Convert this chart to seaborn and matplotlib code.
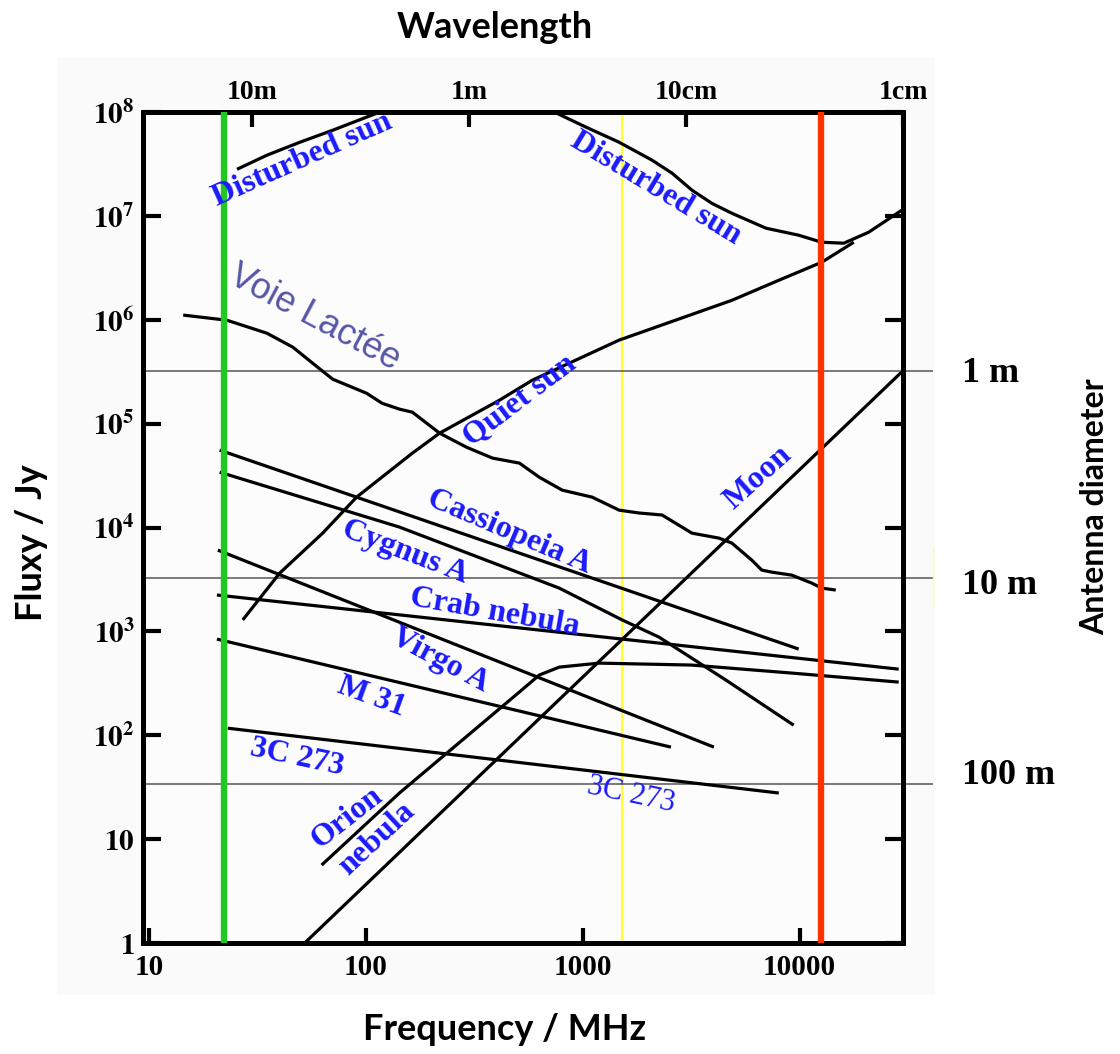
import matplotlib
matplotlib.use('Agg')
import matplotlib.pyplot as plt
import seaborn as sns
import pandas as pd
from matplotlib.patches import Rectangle

# Spectra: frequency in MHz, flux density in Jy
disturbed_sun_lo_mhz = [25.5, 35.0, 49.7, 70.4, 116]
disturbed_sun_lo_jy = [2.81e7, 3.84e7, 5.12e7, 6.68e7, 1.0e8]
disturbed_sun_hi_mhz = [740, 1038, 1472, 2089, 2582, 3190, 3945, 4875, 6998, 9908, 12650, 15990, 20840, 29510]
disturbed_sun_hi_jy = [1.0e8, 7.14e7, 5.12e7, 3.44e7, 2.58e7, 1.77e7, 1.32e7, 1.06e7, 7.62e6, 6.52e6,
                       5.58e6, 5.46e6, 6.97e6, 1.13e7]
quiet_sun_mhz = [27.1, 40.1, 63.3, 90.7, 164, 219, 413, 586, 1472, 4875, 8017, 12650, 17780]
quiet_sun_jy = [1290, 3640, 8830, 1.96e4, 5.2e4, 8.1e4, 1.68e5, 2.62e5, 6.37e5, 1.54e6, 2.4e6, 3.58e6, 5.58e6]
milky_way_mhz = [14.4, 22.9, 35.0, 46.1, 56.9, 70.4, 101, 119, 143, 164, 219, 291, 384, 511, 631,
                 805, 1107, 1472, 1820, 2323, 3190, 4246, 4875, 6026, 6699, 7447, 9204, 11370, 12650, 14690]
milky_way_jy = [1.11e6, 9.9e5, 7.43e5, 5.45e5, 3.82e5, 2.68e5, 1.96e5, 1.57e5, 1.38e5, 1.29e5, 8.1e4,
                5.94e4, 4.66e4, 4.17e4, 3.05e4, 2.29e4, 1.96e4, 1.47e4, 1.38e4, 1.32e4, 8830, 7910, 7080,
                4850, 3890, 3720, 3480, 2920, 2610, 2500]
cas_a_mhz = [21.2, 9908]
cas_a_jy = [5.56e4, 676]
cyg_a_mhz = [21.2, 143, 780, 1520, 2249, 4576, 9397]
cyg_a_jy = [3.41e4, 1.01e4, 2610, 1290, 881, 340, 125]
crab_mhz = [20.6, 28640]
crab_jy = [2240, 433]
virgo_a_mhz = [20.8, 4027]
virgo_a_jy = [6060, 76.9]
m31_mhz = [20.6, 2553]
m31_jy = [843, 76.9]
c3_273_mhz = [23.1, 8017]
c3_273_jy = [117, 27.8]
orion_mhz = [62.6, 143, 511, 631, 780, 1191, 3190, 9204, 28640]
orion_jy = [5.63, 27.8, 261, 380, 453, 495, 474, 397, 325]
moon_mhz = [52.3, 29510]
moon_jy = [1, 3.13e5]

# marker frequencies (MHz) and antenna sensitivity levels (Jy)
green_mhz = 22.2
yellow_mhz = 1520
red_mhz = 12600
antenna_jy = [3.2e5, 3.3e3, 34]
antenna_labels = ['1 m', '10 m', '100 m']
antenna_label_jy = [3.06e5, 2790, 41.4]

# wavelength axis
wave_mhz = [30, 300, 3000, 30000]
wave_labels = ['10m', '1m', '10cm', '1cm']

# curve labels: text, freq, flux, angle
curve_labels = [
    ('Disturbed sun', 51.2, 3.44e7, 24),
    ('Disturbed sun', 2180, 1.85e7, -31),
    ('Quiet sun', 511, 1.68e5, 37),
    ('Cassiopeia A', 459, 9030, -23),
    ('Cygnus A', 152, 5800, -21),
    ('Crab nebula', 392, 1535, -10),
    ('Virgo A', 219, 530, -28),
    ('M 31', 106, 233, -20),
    ('3C 273', 48.1, 60.4, -12),
    ('Orion', 81.7, 16.0, 38),
    ('nebula', 113, 10.0, 43),
    ('Moon', 6430, 2.99e4, 42),
]

spectra = {
    'disturbed_lo': (disturbed_sun_lo_mhz, disturbed_sun_lo_jy),
    'disturbed_hi': (disturbed_sun_hi_mhz, disturbed_sun_hi_jy),
    'quiet': (quiet_sun_mhz, quiet_sun_jy),
    'milky_way': (milky_way_mhz, milky_way_jy),
    'cas_a': (cas_a_mhz, cas_a_jy),
    'cyg_a': (cyg_a_mhz, cyg_a_jy),
    'crab': (crab_mhz, crab_jy),
    'virgo_a': (virgo_a_mhz, virgo_a_jy),
    'm31': (m31_mhz, m31_jy),
    '3c273': (c3_273_mhz, c3_273_jy),
    'orion': (orion_mhz, orion_jy),
    'moon': (moon_mhz, moon_jy),
}
df = pd.concat([pd.DataFrame({'source': k, 'freq': f, 'flux': s})
                for k, (f, s) in spectra.items()], ignore_index=True)

sns.set_style('white')
plt.rcParams['mathtext.fontset'] = 'stix'
plt.rcParams['lines.solid_joinstyle'] = 'round'
plt.rcParams['lines.solid_capstyle'] = 'butt'
plt.rcParams['text.color'] = 'black'

fig = plt.figure(figsize=(11.2, 10.54), dpi=100)
fig.patch.set_facecolor('white')
fig.patches.append(Rectangle((0.051, 0.056), 0.784, 0.889, transform=fig.transFigure,
                             facecolor='#fafafa', edgecolor='none', zorder=-10))
ax = fig.add_axes([0.1277, 0.1053, 0.6786, 0.7884])
ax.set_facecolor('#fcfcfc')
ax.set_xscale('log')
ax.set_yscale('log')

ax.axvline(yellow_mhz, color='#ffff33', lw=1.6, zorder=1)
sns.lineplot(data=df, x='freq', y='flux', units='source', estimator=None, sort=False,
             color='black', lw=2.3, ax=ax, legend=False, zorder=3)
ax.axvline(green_mhz, color='#22c822', lw=4.6, zorder=4)
ax.axvline(red_mhz, color='#ff3300', lw=4.6, zorder=4)
for y in antenna_jy:
    ax.axhline(y, xmin=0, xmax=1.039, color='#555555', lw=1.1, clip_on=False, zorder=2)
ax.plot([1.039, 1.039], [1676, 6470], color='#ffff99', lw=1.0,
        transform=ax.get_yaxis_transform(), clip_on=False)

for txt, y in zip(antenna_labels, antenna_label_jy):
    ax.text(1.078, y, txt, transform=ax.get_yaxis_transform(), ha='left', va='center',
            family='Liberation Serif', weight='bold', fontsize=26, color='black')

for txt, f, s, ang in curve_labels:
    ax.text(f, s, txt, rotation=ang, rotation_mode='anchor', ha='center', va='center',
            family='Liberation Serif', weight='bold', fontsize=23, color='#1a1aff', zorder=5)
ax.text(58.2, 1.04e6, 'Voie Lactée', rotation=-28, rotation_mode='anchor', ha='center',
        va='center', family='Liberation Sans', fontsize=26, color='#5656a8', zorder=5)
ax.text(1671, 26.6, '3C 273', rotation=-12, rotation_mode='anchor', ha='center', va='center',
        family='Liberation Serif', fontsize=22, color='#1a1aff', zorder=5)

ax.set_xlim(9.4, 30000)
ax.set_ylim(1, 1e8)
ax.set_xticks([10, 100, 1000, 10000])
ax.set_xticklabels(['10', '100', '1000', '10000'])
ax.set_yticks([10 ** k for k in range(9)])
ax.set_yticklabels([r'$\mathbf{1}$', r'$\mathbf{10}$'] +
                   [r'$\mathbf{10^{%d}}$' % k for k in range(2, 9)])
ax.minorticks_off()
ax.set_xlabel('')
ax.set_ylabel('')
for lab in ax.get_xticklabels():
    lab.set_fontfamily('Liberation Serif')
    lab.set_fontweight('bold')
ax.tick_params(axis='x', direction='in', length=11, width=3, labelsize=21, pad=8, colors='black')
ax.tick_params(axis='y', direction='in', length=13, width=3, labelsize=21, pad=6,
               right=True, left=True, colors='black')
for sp in ax.spines.values():
    sp.set_visible(True)
    sp.set_linewidth(3.6)
    sp.set_color('black')

ax2 = ax.twiny()
ax2.set_xscale('log')
ax2.set_xlim(ax.get_xlim())
ax2.set_xticks(wave_mhz)
ax2.set_xticklabels(wave_labels, family='Liberation Serif', weight='bold')
ax2.minorticks_off()
ax2.tick_params(axis='x', direction='in', length=11, width=3, labelsize=20, pad=5, colors='black')
for sp in ax2.spines.values():
    sp.set_visible(False)

fig.text(495 / 1120, 1 - 27 / 1054, 'Wavelength', ha='center', va='center',
         family='Lato', weight='bold', fontsize=26, color='black')
fig.text(505 / 1120, 1 - 1030 / 1054, 'Frequency / MHz', ha='center', va='center',
         family='Lato', weight='bold', fontsize=26, color='black')
fig.text(32 / 1120, 1 - 543 / 1054, 'Fluxy / Jy', ha='center', va='center', rotation=90,
         family='Lato', weight='bold', fontsize=26, color='black')
fig.text(1095 / 1120, 1 - 507 / 1054, 'Antenna diameter', ha='center', va='center', rotation=90,
         family='Lato', weight='bold', fontsize=23, color='black')

fig.savefig('out.png', dpi=100)
